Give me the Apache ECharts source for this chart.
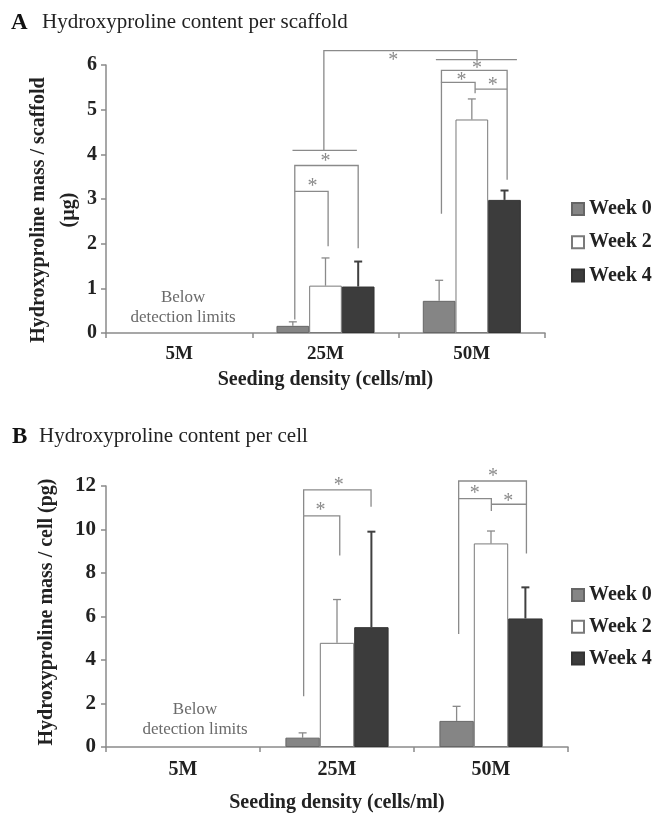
<!DOCTYPE html>
<html>
<head>
<meta charset="utf-8">
<script src="https://cdn.jsdelivr.net/npm/echarts@6/dist/echarts.min.js"></script>
<style>
html,body{margin:0;padding:0;background:#fff;}
#c{width:665px;height:814px;}
</style>
</head>
<body>
<div id="c"></div>
<script>
// ---------- DATA ----------
const categories = ['5M', '25M', '50M'];
const seriesNames = ['Week 0', 'Week 2', 'Week 4'];

// Panel A: hydroxyproline per scaffold (µg); 5M below detection
const aWeek0 = [null, 0.16, 0.72];
const aWeek2 = [null, 1.06, 4.78];
const aWeek4 = [null, 1.04, 2.98];
const aWeek0Err = [null, 0.25, 1.18];   // upper whisker end
const aWeek2Err = [null, 1.68, 5.24];
const aWeek4Err = [null, 1.60, 3.19];
const aTicks = [0, 1, 2, 3, 4, 5, 6];

// Panel B: hydroxyproline per cell (pg)
const bWeek0 = [null, 0.43, 1.20];
const bWeek2 = [null, 4.79, 9.36];
const bWeek4 = [null, 5.51, 5.91];
const bWeek0Err = [null, 0.65, 1.87];
const bWeek2Err = [null, 6.78, 9.93];
const bWeek4Err = [null, 9.90, 7.34];
const bTicks = [0, 2, 4, 6, 8, 10, 12];

// Significance brackets: polylines of [categoryIndex, barOffset, value]
const bracketsA = [
  [[1, -0.94, 0.30], [1, -0.94, 3.17], [1, 0.08, 3.17], [1, 0.08, 1.94]],
  [[1, -0.94, 3.17], [1, -0.94, 3.75], [1, 1.00, 3.75], [1, 1.00, 1.90]],
  [[1, -1.01, 4.09], [1, 0.96, 4.09]],
  [[1, -0.05, 4.09], [1, -0.05, 6.32], [2, 0.16, 6.32], [2, 0.16, 6.12]],
  [[2, -1.10, 6.12], [2, 1.38, 6.12]],
  [[2, -0.93, 2.67], [2, -0.93, 5.61], [2, 0.10, 5.61], [2, 0.10, 5.37]],
  [[2, 0.10, 5.46], [2, 1.08, 5.46]],
  [[2, -0.93, 5.61], [2, -0.93, 5.88], [2, 1.08, 5.88], [2, 1.08, 3.43]]
];
const starsA = [[1, -0.40, 3.36], [1, 0.00, 3.92], [1, 2.07, 6.18], [2, 0.16, 6.01], [2, -0.32, 5.74], [2, 0.64, 5.63]];

const bracketsB = [
  [[1, -0.97, 2.33], [1, -0.97, 10.63], [1, 0.08, 10.63], [1, 0.08, 8.80]],
  [[1, -0.97, 10.63], [1, -0.97, 11.82], [1, 0.99, 11.82], [1, 0.99, 11.05]],
  [[2, -0.94, 5.19], [2, -0.94, 12.23], [2, 1.03, 12.23], [2, 1.03, 8.90]],
  [[2, -0.94, 11.42], [2, 0.01, 11.42], [2, 0.01, 10.85]],
  [[2, 0.01, 11.16], [2, 1.03, 11.16]]
];
const starsB = [[1, -0.48, 11.05], [1, 0.05, 12.20], [2, 0.06, 12.62], [2, -0.47, 11.82], [2, 0.50, 11.46]];

// "Below detection limits" notes: [categoryIndex, barOffset, value]
const noteA = [[0, 0.12, 0.57]];
const noteB = [[0, 0.35, 1.28]];
const noteText = 'Below\ndetection limits';

// ---------- STYLE ----------
const SERIF = "'Liberation Serif','Times New Roman',serif";
const CAT_GAP = 0.33;
const fills = ['#858585', '#ffffff', '#3c3c3c'];
const borders = ['#666666', '#7a7a7a', '#333333'];
const errColors = ['#8a8a8a', '#8a8a8a', '#404040'];
const errWidths = [1.3, 1.3, 2];
const GRAY = '#8a8a8a';

function barW(api) { return api.size([1, 0])[0] * (1 - CAT_GAP) / 3; }
function px(api, p) {
  const c = api.coord([p[0], p[2]]);
  return [c[0] + p[1] * barW(api), c[1]];
}

function barSeries(idx, data, gi) {
  return {
    type: 'bar', name: seriesNames[idx], xAxisIndex: gi, yAxisIndex: gi,
    data: data, barGap: '0%', barCategoryGap: (CAT_GAP * 100) + '%',
    itemStyle: { color: fills[idx], borderColor: borders[idx], borderWidth: 1 },
    emphasis: { disabled: true }, animation: false, z: 3
  };
}
function errSeries(gi, vals, errs) {
  const d = [];
  for (let s = 0; s < 3; s++) for (let c = 0; c < categories.length; c++) {
    if (vals[s][c] != null) d.push([c, s, vals[s][c], errs[s][c]]);
  }
  return {
    type: 'custom', xAxisIndex: gi, yAxisIndex: gi, clip: false, silent: true, animation: false, z: 2,
    data: d,
    renderItem: function (params, api) {
      const c = api.value(0), s = api.value(1);
      const p0 = px(api, [c, s - 1, api.value(2)]);
      const p1 = px(api, [c, s - 1, api.value(3)]);
      const st = { stroke: errColors[s], lineWidth: errWidths[s] };
      return { type: 'group', children: [
        { type: 'line', shape: { x1: p0[0], y1: p0[1], x2: p1[0], y2: p1[1] }, style: st },
        { type: 'line', shape: { x1: p1[0] - 4, y1: p1[1], x2: p1[0] + 4, y2: p1[1] }, style: st }
      ] };
    }
  };
}
function bracketSeries(gi, brackets) {
  return {
    type: 'custom', xAxisIndex: gi, yAxisIndex: gi, clip: false, silent: true, animation: false, z: 4,
    data: brackets.map((b, i) => [b[0][0], b[0][2], i]),
    renderItem: function (params, api) {
      const b = brackets[params.dataIndex];
      return { type: 'polyline', shape: { points: b.map(p => px(api, p)) },
        style: { stroke: GRAY, lineWidth: 1.3, fill: null } };
    }
  };
}
function starSeries(gi, stars) {
  return {
    type: 'custom', xAxisIndex: gi, yAxisIndex: gi, clip: false, silent: true, animation: false, z: 4,
    data: stars.map(s => [s[0], s[2], s[1]]),
    renderItem: function (params, api) {
      const p = px(api, [api.value(0), api.value(2), api.value(1)]);
      return { type: 'text', x: p[0], y: p[1] + 4,
        style: { text: '*', font: '20px ' + SERIF, fill: GRAY, align: 'center', verticalAlign: 'middle' } };
    }
  };
}
function noteSeries(gi, notes) {
  return {
    type: 'custom', xAxisIndex: gi, yAxisIndex: gi, clip: false, silent: true, animation: false, z: 4,
    data: notes.map(n => [n[0], n[2], n[1]]),
    renderItem: function (params, api) {
      const p = px(api, [api.value(0), api.value(2), api.value(1)]);
      return { type: 'text', x: p[0], y: p[1],
        style: { text: noteText, font: '17px ' + SERIF, fill: '#6a6a6a', align: 'center', verticalAlign: 'middle', lineHeight: 20 } };
    }
  };
}

function xAxis(gi, fs, margin, nameGap) {
  return {
    type: 'category', gridIndex: gi, data: categories, boundaryGap: true,
    axisLine: { lineStyle: { color: GRAY, width: 1.5 } },
    axisTick: { show: true, length: 5, lineStyle: { color: GRAY, width: 1.5 } },
    axisLabel: { fontFamily: SERIF, fontWeight: 'bold', fontSize: fs, color: '#222', margin: margin },
    name: 'Seeding density (cells/ml)', nameLocation: 'middle', nameGap: nameGap,
    nameTextStyle: { fontFamily: SERIF, fontWeight: 'bold', fontSize: 20, color: '#222' }
  };
}
function yAxis(gi, ticks, fs, margin) {
  return {
    type: 'value', gridIndex: gi, min: ticks[0], max: ticks[ticks.length - 1],
    interval: ticks[1] - ticks[0],
    axisLine: { show: true, lineStyle: { color: GRAY, width: 1.5 } },
    axisTick: { show: true, length: 5, lineStyle: { color: GRAY, width: 1.5 } },
    splitLine: { show: false },
    axisLabel: { fontFamily: SERIF, fontWeight: 'bold', fontSize: fs, color: '#222', margin: margin }
  };
}
function legend(top, gap) {
  return {
    orient: 'vertical', left: 571, top: top, padding: 0, itemWidth: 12, itemHeight: 12, itemGap: gap,
    icon: 'rect', data: seriesNames, selectedMode: false,
    textStyle: { fontFamily: SERIF, fontWeight: 'bold', fontSize: 20, color: '#222' }
  };
}

const chart = echarts.init(document.getElementById('c'), null, { renderer: 'canvas' });
chart.setOption({
  backgroundColor: '#fff',
  animation: false,
  grid: [
    { left: 106, top: 65, width: 439, height: 268 },
    { left: 106, top: 486, width: 462, height: 261 }
  ],
  xAxis: [xAxis(0, 19, 12, 37), xAxis(1, 20, 13, 46)],
  yAxis: [yAxis(0, aTicks, 20, 9), yAxis(1, bTicks, 21, 10)],
  legend: [legend(199, 13.3), legend(585, 11.7)],
  series: [
    barSeries(0, aWeek0, 0), barSeries(1, aWeek2, 0), barSeries(2, aWeek4, 0),
    errSeries(0, [aWeek0, aWeek2, aWeek4], [aWeek0Err, aWeek2Err, aWeek4Err]),
    bracketSeries(0, bracketsA), starSeries(0, starsA), noteSeries(0, noteA),
    barSeries(0, bWeek0, 1), barSeries(1, bWeek2, 1), barSeries(2, bWeek4, 1),
    errSeries(1, [bWeek0, bWeek2, bWeek4], [bWeek0Err, bWeek2Err, bWeek4Err]),
    bracketSeries(1, bracketsB), starSeries(1, starsB), noteSeries(1, noteB)
  ],
  graphic: [
    { type: 'text', left: 11, top: 12, style: { text: 'A', font: 'bold 23px ' + SERIF, fill: '#111' } },
    { type: 'text', left: 42, top: 12, style: { text: 'Hydroxyproline content per scaffold', font: '21px ' + SERIF, fill: '#222' } },
    { type: 'text', left: 12, top: 426, style: { text: 'B', font: 'bold 23px ' + SERIF, fill: '#111' } },
    { type: 'text', left: 39, top: 426, style: { text: 'Hydroxyproline content per cell', font: '21px ' + SERIF, fill: '#222' } },
    { type: 'text', x: 54, y: 210, rotation: Math.PI / 2,
      style: { text: 'Hydroxyproline mass / scaffold\n(µg)', font: 'bold 20px ' + SERIF, fill: '#222', align: 'center', verticalAlign: 'middle', lineHeight: 30 } },
    { type: 'text', x: 47, y: 612, rotation: Math.PI / 2,
      style: { text: 'Hydroxyproline mass / cell (pg)', font: 'bold 20px ' + SERIF, fill: '#222', align: 'center', verticalAlign: 'middle' } },
    { type: 'rect', shape: { x: 652, y: 0, width: 13, height: 814 }, style: { fill: '#fff' }, z: 100 }
  ]
});
</script>
</body>
</html>
